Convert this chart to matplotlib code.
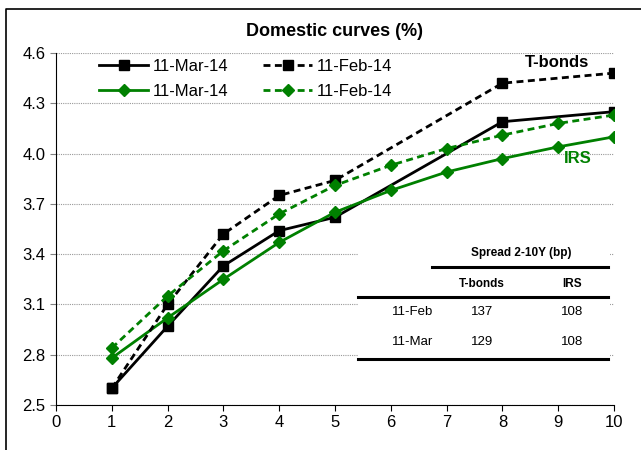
import matplotlib
matplotlib.use("Agg")
import matplotlib.pyplot as plt
from matplotlib.lines import Line2D
from matplotlib.patches import Rectangle

plt.rcParams['font.family'] = ['Liberation Sans', 'DejaVu Sans']

green = '#008000'

# T-bonds maturities (years) and yields
tb_x = [1, 2, 3, 4, 5, 8, 10]
tb_mar = [2.60, 2.97, 3.33, 3.54, 3.62, 4.19, 4.25]
tb_feb = [2.60, 3.10, 3.52, 3.75, 3.84, 4.42, 4.48]

# IRS maturities and rates
irs_x = [1, 2, 3, 4, 5, 6, 7, 8, 9, 10]
irs_mar = [2.78, 3.02, 3.25, 3.47, 3.65, 3.78, 3.89, 3.97, 4.04, 4.10]
irs_feb = [2.84, 3.15, 3.42, 3.64, 3.81, 3.93, 4.03, 4.11, 4.18, 4.23]

# spread table
tbl_rows = ['11-Feb', '11-Mar']
tbl_cols = ['T-bonds', 'IRS']
tbl_vals = [[137, 108], [129, 108]]

fig = plt.figure(figsize=(6.41, 4.5), dpi=100)
ax = fig.add_axes([56 / 641, 45 / 450, 558 / 641, 352 / 450])

dash = (0, (2.5, 1.6))
ax.plot(tb_x, tb_mar, color='black', lw=2, marker='s', ms=7, label='11-Mar-14')
ax.plot(irs_x, irs_mar, color=green, lw=2, marker='D', ms=6, label='11-Mar-14')
ax.plot(tb_x, tb_feb, color='black', lw=2, ls=dash, marker='s', ms=7, label='11-Feb-14')
ax.plot(irs_x, irs_feb, color=green, lw=2, ls=dash, marker='D', ms=6, label='11-Feb-14')

ax.set_xlim(0, 10)
ax.set_ylim(2.5, 4.6)
ax.set_xticks(range(0, 11))
ax.set_yticks([2.5, 2.8, 3.1, 3.4, 3.7, 4.0, 4.3, 4.6])
ax.yaxis.set_major_formatter(matplotlib.ticker.FormatStrFormatter('%.1f'))
ax.tick_params(axis='both', labelsize=12)
ax.tick_params(axis='y', color='gray', length=4)
ax.tick_params(axis='x', length=4)
ax.grid(axis='y', color='#999999', ls=(0, (1, 1)), lw=0.8)
ax.set_axisbelow(True)
for s in ['top', 'right']:
    ax.spines[s].set_visible(False)

ax.set_title('Domestic curves (%)', fontsize=13, fontweight='bold', pad=12)

ax.legend(loc='upper left', ncol=2, frameon=False, fontsize=12,
          bbox_to_anchor=(0.051, 1.026), handlelength=2.9, columnspacing=2.1,
          handletextpad=0.3, labelspacing=0.6)

ax.text(8.98, 4.545, 'T-bonds', fontsize=12, fontweight='bold', ha='center', va='center')
ax.text(9.35, 3.97, 'IRS', fontsize=12, fontweight='bold', color=green, ha='center', va='center')

# table of spreads, positions in axes fraction
def fx(px):
    return (px - 56) / 558

def fy(py):
    return (405 - py) / 352

ax.add_patch(Rectangle((fx(358), fy(362)), fx(610) - fx(358), fy(240) - fy(362),
                       transform=ax.transAxes, facecolor='white', edgecolor='none', zorder=2))
tfont = dict(transform=ax.transAxes, ha='center', va='center', zorder=3)
ax.text(fx(521), fy(253), 'Spread 2-10Y (bp)', fontsize=8.5, fontweight='bold', **tfont)
for j, c in enumerate(tbl_cols):
    ax.text(fx([482, 572][j]), fy(284), c, fontsize=8.5, fontweight='bold', **tfont)
for i, r in enumerate(tbl_rows):
    yy = fy([312, 342][i])
    ax.text(fx(413), yy, r, fontsize=9.5, **tfont)
    for j, v in enumerate(tbl_vals[i]):
        ax.text(fx([482, 572][j]), yy, str(v), fontsize=9.5, **tfont)
for x0, y0 in [(432, 267), (358, 297), (358, 359)]:
    ax.add_line(Line2D([fx(x0), fx(608)], [fy(y0), fy(y0)], transform=ax.transAxes,
                       color='black', lw=2.2, zorder=3))

# outer frame (left and top edges)
fig.add_artist(Line2D([6 / 641, 6 / 641, 1], [0, 1 - 9 / 450, 1 - 9 / 450],
                      transform=fig.transFigure, color='black', lw=1.2))

fig.savefig('out.png', dpi=100)
